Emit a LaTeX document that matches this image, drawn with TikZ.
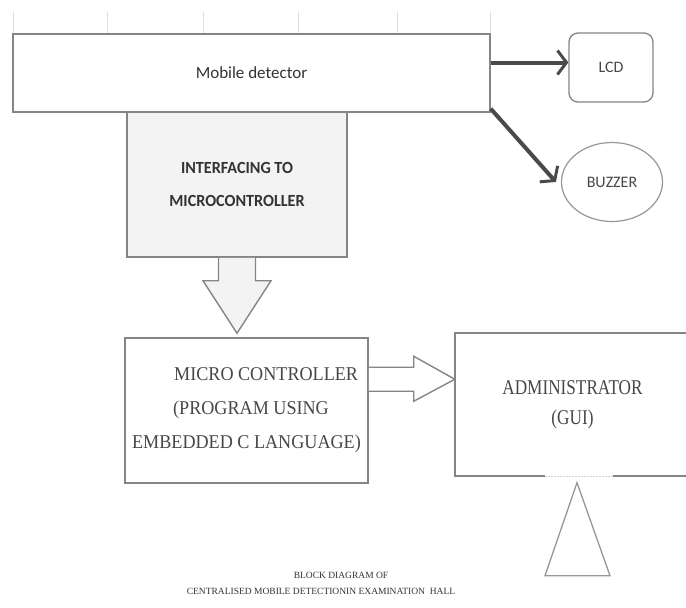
\documentclass[tikz,border=0pt]{standalone}
\usepackage{fontspec}
\setmainfont{Liberation Serif}
\newfontfamily\calib{Carlito}
\newfontfamily\calibcond[FakeStretch=0.95]{Carlito}
\newfontfamily\sercond[FakeStretch=0.93]{Liberation Serif}
\newfontfamily\sercondB[FakeStretch=0.82]{Liberation Serif}
\usetikzlibrary{arrows.meta,calc,shapes.geometric}
\definecolor{edge}{HTML}{858585}
\definecolor{txt}{HTML}{474747}
\definecolor{darktxt}{HTML}{333333}
\definecolor{darrow}{HTML}{4A4A4A}
\definecolor{lightfill}{HTML}{F3F3F3}
\begin{document}
\begin{tikzpicture}[x=1pt,y=-1pt,
  box/.style={draw=edge,line width=1.5pt,inner sep=0pt},
  edgeline/.style={draw=edge,line width=1.5pt},
  faintline/.style={draw=edge!35,line width=1.2pt,dash pattern=on 2pt off 1pt},
  tickline/.style={draw=black!13,line width=0.8pt},
  thickarr/.style={draw=darrow,line width=4pt,-{Straight Barb[length=9pt,width=24pt,line width=3pt]}},
  blockarr/.style={draw=edge,line width=1.4pt,line join=miter},
  thinshape/.style={draw=edge!85,line width=1.3pt}]
\useasboundingbox (0,0) rectangle (686,608);
\fill[white] (0,0) rectangle (686,608);

% ruler ticks
\foreach \x in {13,107,203,298,397,490} \draw[tickline] (\x,12) -- (\x,33);

% blocks
\node[box,minimum width=477pt,minimum height=78pt,
      font=\calib\fontsize{17}{20}\selectfont,text=darktxt] (mobile) at (251.5,73) {Mobile detector};
\node[box,fill=lightfill,minimum width=220pt,minimum height=145pt,align=center,
      font=\calibcond\bfseries\fontsize{17}{33}\selectfont,text=darktxt] (iface) at (237,184.5)
      {INTERFACING TO\\MICROCONTROLLER};
\node[box,minimum width=243pt,minimum height=145pt,align=left,
      font=\sercond\fontsize{19.5}{34}\selectfont,text=txt] (micro) at (246.5,410.5)
      {\hspace*{42pt}MICRO CONTROLLER\\\hspace*{41pt}(PROGRAM USING\\EMBEDDED C LANGUAGE)};
\node[draw=none,inner sep=0pt,minimum width=235pt,minimum height=143pt,align=center,
      font=\sercondB\fontsize{21}{30}\selectfont,text=txt] (admin) at (572.5,404.5)
      {ADMINISTRATOR\\(GUI)};
\node[box,line width=1.3pt,rounded corners=9pt,minimum width=84pt,minimum height=69pt,
      font=\calib\fontsize{16}{18}\selectfont,text=txt] (lcd) at (611,67.5) {LCD};
\node[ellipse,draw=edge!85,line width=1.2pt,inner sep=0pt,minimum width=101pt,minimum height=79pt,
      font=\calib\fontsize{16}{18}\selectfont,text=txt] (buzzer) at (612,182) {BUZZER};

% admin border (open at the right, lighter under the middle)
\draw[edgeline] (admin.north east) -- (admin.north west) -- (admin.south west) -- ($(admin.south west)+(90,0)$);
\draw[edgeline] ($(admin.south west)+(158,0)$) -- (admin.south east);
\draw[faintline] ($(admin.south west)+(90,0)$) -- ($(admin.south west)+(158,0)$);

% thick arrows
\coordinate (lcdin) at ($(lcd.west)+(0,-5)$);
\draw[thickarr] (mobile.east |- lcdin) -- (lcdin);
\coordinate (buzin) at ($(buzzer.west)+(-5,0)$);
\draw[thickarr] ($(mobile.south east)+(0,-4)$) -- (buzin);

% block arrow down
\coordinate (dtip) at ($(iface.south |- micro.north)+(0,-4)$);
\draw[blockarr,fill=lightfill] ($(iface.south)+(-18.5,0)$) -- ($(iface.south)+(-18.5,23)$)
  -- ($(iface.south)+(-34,23)$) -- (dtip) -- ($(iface.south)+(34,23)$)
  -- ($(iface.south)+(18.5,23)$) -- ($(iface.south)+(18.5,0)$);

% block arrow right
\coordinate (ra) at ($(micro.north east)+(0,42)$);
\draw[blockarr,fill=white] ($(ra)+(0,-12)$) -- ($(ra)+(45,-12)$) -- ($(ra)+(45,-23)$)
  -- (ra -| admin.west) -- ($(ra)+(45,22)$) -- ($(ra)+(45,12)$) -- ($(ra)+(0,12)$);

% triangle under administrator
\coordinate (tapex) at ($(admin.south)+(4.5,6.5)$);
\draw[thinshape] (tapex) -- ($(tapex)+(33,93)$) -- ($(tapex)+(-32,93)$) -- cycle;

% caption
\node[font=\fontsize{9.5}{10}\selectfont,text=darktxt,inner sep=0pt] (cap1) at (341,575) {BLOCK DIAGRAM OF};
\node[font=\fontsize{9.5}{10}\selectfont,text=darktxt,inner sep=0pt] (cap2) at (321,591)
  {CENTRALISED MOBILE DETECTIONIN EXAMINATION\ \ HALL};
\end{tikzpicture}
\end{document}
